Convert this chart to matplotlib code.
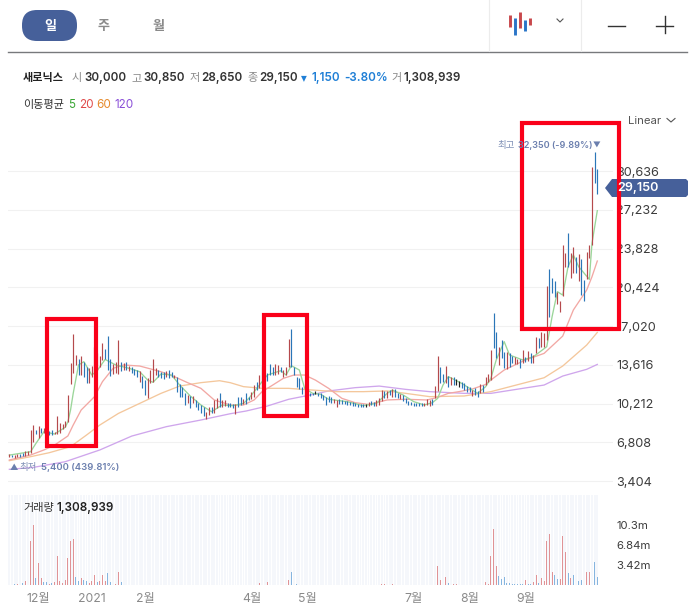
import matplotlib
matplotlib.use("Agg")
import matplotlib.pyplot as plt
from matplotlib.patches import FancyBboxPatch, Polygon, Rectangle

plt.rcParams['font.family'] = ['Inter', 'Noto Sans CJK KR', 'DejaVu Sans']

W, H = 697, 614

highs = [
 5800,5720,5740,5760,5800,5900,6050,6100,7900,8340,
 7900,8280,8050,8050,7840,7840,7900,7750,9130,8490,
 8430,8720,10980,13760,16330,14490,14100,14430,13900,13460,
 13320,13520,15220,14630,14400,15510,14980,16160,14100,13700,
 13900,15800,13840,13760,13840,13550,13400,13230,13170,13110,
 12640,12290,12440,13170,14100,13320,13170,13020,13020,13110,
 13170,13020,12730,12590,11940,11650,11120,10980,10890,10890,
 10540,10300,10100,9950,9510,9950,9950,10540,10680,11120,
 10540,10540,10300,10240,10150,10150,10770,10770,10600,11120,
 10770,11270,11850,12150,12730,13520,12730,12880,13700,13400,
 13700,13610,13460,13170,13400,15890,16770,13400,12590,12440,
 11650,11470,11270,11180,11120,11350,11180,11120,10980,10770,
 10890,10770,10600,10540,10600,10540,10480,10480,10390,10330,
 10240,10190,10190,10150,10150,10390,10480,10390,10540,10740,
 11410,11350,11330,11410,11470,11470,11120,11030,10980,10680,
 10480,10390,10300,10300,10240,10240,10300,10600,10540,10600,
 11760,14400,13400,12820,13520,12640,12580,12580,12350,12200,
 12140,12000,11790,11700,11410,11560,11350,11910,11850,12580,
 12820,14920,18200,16530,15220,15800,14780,14720,14630,14400,
 14340,14100,14100,14920,14340,14860,14630,14490,16040,15950,
 16530,16390,20540,22010,21220,20980,20050,19260,24140,23410,
 25230,23410,23940,23120,23350,22890,21070,23560,24140,30960,
 32350,30850]
lows = [
 5500,5500,5480,5520,5560,5620,5650,5750,5910,6880,
 7550,7170,7670,7610,7370,7430,7490,7550,7550,7670,
 7960,8200,8630,11940,12880,13610,12730,12730,12590,12060,
 12060,12590,12880,13170,13460,14050,14100,13170,12640,12820,
 12880,12820,13110,13170,13170,13110,12940,12730,12590,12150,
 11560,10980,10740,12060,12150,12730,12590,12440,12350,12590,
 12440,12590,12440,11270,10830,10770,10100,10240,9860,10240,
 9950,9660,9370,9130,8840,9220,9370,9420,9800,9950,
 9890,10010,9950,9890,9800,9300,9950,10100,10190,10190,
 10540,10600,10770,11410,11560,11650,12230,12230,12730,12730,
 12730,12820,13020,12590,12730,13460,13400,12730,11710,11470,
 11060,10830,10980,10890,10980,11060,10890,10680,10540,10100,
 10390,10300,10240,9950,10190,10190,10190,10130,10100,10040,
 10010,9950,9950,9950,9890,10010,10100,10010,10010,10100,
 10480,10680,10680,10980,10770,10770,10680,10600,10480,10240,
 10100,10100,10040,10010,10010,10010,10010,10100,10010,10100,
 10680,11300,11990,12140,11990,11700,11850,11850,11850,11700,
 11560,11410,11270,11270,10890,10970,10770,11180,11270,11850,
 12140,12290,15070,14190,13610,14190,13310,13230,13460,13810,
 13700,13700,13310,13810,13900,13990,13750,13750,14630,15070,
 15220,15220,15800,17850,19900,19610,18960,18290,19670,22240,
 22240,21220,21710,21650,20980,19750,19260,21130,23000,24140,
 29560,28650]
moves = ("rbrrbbrrrr" "brbrbbbrrr" "rrrrrrbrbb" "rrrrrrbbbr" "rrbrbrbbbr"
         "bbrrrrbbbr" "bbrbbbbrbr" "bbbbrrbrrb" "rrbbbrbbrb" "brrbrbbbbb"
         "rrbrrrbbbb" "bbbbbfbbbb" "bbrrbbbbbb" "bbbbfrbbrr" "rbrbrbbrbb"
         "bbbbbbrrrb" "rrbbrbrbff" "bbbbrbbrbr" "rrbbrbbrbb" "rrbrbrbrrb"
         "rrrbbbrrrr" "brrbrbbrrr" "bb")
days = list(range(1, len(highs) + 1))

ma5_days = [1,9,11,14,18,22,23,24,25,27,29,32,34,37,41,46,50,53,55,58,62,65,69,73,77,81,85,89,91,95,98,103,105,107,110,112,115,118,121,128,134,139,143,145,149,153,157,160,162,164,166,171,177,180,182,184,187,189,194,198,203,205,207,209,211,213,215,219,220,222]
ma5 = [5700,6000,6730,7750,7550,8140,8630,9660,11120,13610,13900,12730,13110,14100,13610,13320,13020,12290,12090,12820,12730,11850,10890,10100,9510,10100,10040,10240,10680,11850,12730,13110,12730,13550,13170,11560,11120,11040,10600,10390,10040,10240,11120,11410,10980,10390,10100,10300,10680,11850,12590,12000,11120,11700,12440,14050,15660,14490,14050,14340,15220,17850,20050,19750,22240,23270,22240,21130,24290,27160]
ma20_days = [1,9,14,18,23,25,28,33,36,40,44,50,58,63,68,73,78,84,89,93,96,100,104,108,112,116,121,126,131,136,143,150,158,162,166,170,175,180,182,187,195,202,209,213,218,220,222]
ma20 = [5270,5710,6150,6580,7380,8340,9660,10830,12150,13320,13610,13520,13020,12590,12060,11560,10540,10100,10100,10540,11270,11850,12440,12730,12730,12290,11560,10680,10300,10150,10540,10600,10540,10770,11120,11270,11500,11900,12290,13170,14050,14630,16150,18440,20190,21360,22740]
ma60_days = [1,9,16,24,30,35,42,50,58,65,73,80,84,89,96,106,115,124,134,143,150,159,172,182,194,202,209,218,222]
ma60 = [5210,5560,5910,6440,7460,8340,9360,10240,11120,11760,12060,12230,12060,11710,11560,11560,11410,11270,11270,11330,11120,10830,10890,11270,12000,12490,13520,15360,16470]
ma120_days = [1,10,22,35,47,60,73,84,90,98,106,114,121,131,140,150,159,172,182,194,202,209,218,222]
ma120 = [4450,4620,5120,6150,7370,8195,8780,9330,9570,10010,10600,10970,11330,11620,11760,11470,11270,11120,11120,11560,11850,12640,13230,13660]

vol_days = [2,3,4,5,6,7,8,9,10,11,
            12,13,14,15,16,17,18,19,20,21,
            22,23,24,25,26,27,28,29,30,31,
            32,33,34,35,36,37,38,39,41,42,
            43,55,95,98,106,107,108,109,141,142,
            145,161,162,163,164,165,166,168,169,180,
            181,182,183,184,185,186,187,188,189,190,
            191,192,193,194,195,196,197,198,199,200,
            201,202,203,204,205,206,207,208,209,210,
            211,212,213,214,215,216,217,218,219,220,
            221,222]
vol = [.1,.1,.1,.1,.4,.6,.5,7.5,10.3,1.14,
       3.7,1.14,.45,.45,.23,.28,.45,5.0,.6,.28,
       .85,4.6,7.5,7.8,1.3,.6,1.14,.85,.6,.28,
       .6,1.65,.45,.6,1.65,.6,2.0,.45,.23,2.3,
       .45,1.3,.3,.45,.85,2.3,.45,.2,.2,.15,
       .1,1.43,3.25,.85,.2,1.3,.28,.23,.15,.45,
       .2,5.0,9.5,3.25,1.5,.97,1.3,.3,.28,.23,
       .15,.15,.15,.15,.85,.15,.15,.45,1.65,.28,
       1.14,.6,7.5,8.66,2.17,1.65,.97,.97,8.3,5.6,
       2.0,1.14,1.65,.6,.74,.8,.45,2.3,2.17,9.5,
       3.9,1.31]
vol_dirs = ("bbrrbrrrrb" "rrbbrbrrrr" "rrrrbbrbbr" "rrbrrrbbrr" "brrrrbbbrr"
            "rrrrrrbrrr" "rrrrbbbbbb" "bbbbrbbrrb" "rrrrrbbrrr" "brbbbbrrrr" "bb")

price_ticks = [3404,6808,10212,13616,17020,20424,23828,27232,30636]
month_ticks = [12,32,52,92,113,153,174,195]
month_labels = ['12월','2021','2월','4월','5월','7월','8월','9월']
vol_ticks = [3.42,6.84,10.3]
vol_tick_labels = ['3.42m','6.84m','10.3m']

RED, BLUE = '#b5494c', '#2b76b8'
NAVY = '#46609a'
def axes_px(x0, y0, x1, y1):
    return [x0/W, 1-y1/H, (x1-x0)/W, (y1-y0)/H]

fig = plt.figure(figsize=(W/100, H/100), dpi=100, facecolor='white')
xlim = (0.49, 227.9)

ax = fig.add_axes(axes_px(8, 130, 613, 490))
ax.set_xlim(*xlim)
ax.set_ylim(2635, 34243)
for s in ax.spines.values():
    s.set_visible(False)
ax.set_xticks([])
ax.yaxis.tick_right()
ax.set_yticks(price_ticks)
ax.set_yticklabels([f'{p:,}' for p in price_ticks])
ax.tick_params(axis='y', length=0, pad=2.5, labelsize=9.1, labelcolor='#3c3c3c')
ax.grid(axis='y', color='#f1f1f1', lw=0.8)
ax.set_axisbelow(True)

for d, c, name in ((ma120_days, '#cfa6ec', ma120), (ma60_days, '#f4c79c', ma60),
                   (ma20_days, '#f2a8a4', ma20), (ma5_days, '#9bd69a', ma5)):
    ax.plot(d, name, color=c, lw=0.95, zorder=2)
cmap = {'r': RED, 'b': BLUE, 'f': '#222222'}
ax.vlines(days, lows, highs, colors=[cmap[m] for m in moves], lw=0.85, zorder=3)

vx = fig.add_axes(axes_px(8, 495, 613, 585))
vx.set_xlim(*xlim)
vx.set_ylim(0, 15.39)
for s in vx.spines.values():
    s.set_visible(False)
vx.bar(days, [15.39]*len(days), width=0.72, color='#f5f7fb', zorder=1)
vx.bar(vol_days, vol, width=0.36,
       color=['#e09396' if c == 'r' else '#86b5df' for c in vol_dirs], zorder=2)
vx.yaxis.tick_right()
vx.set_yticks(vol_ticks)
vx.set_yticklabels(vol_tick_labels)
vx.tick_params(axis='y', length=0, pad=2.5, labelsize=8.2, labelcolor='#3c3c3c')
vx.set_xticks(month_ticks)
vx.set_xticklabels(month_labels)
vx.tick_params(axis='x', length=0, pad=5.5, labelsize=8.8, labelcolor='#8a8a8a')

ov = fig.add_axes([0, 0, 1, 1], zorder=10)
ov.set_xlim(0, W)
ov.set_ylim(H, 0)
ov.axis('off')
ov.patch.set_alpha(0)

def T(x, y, s, color='#333333', size=8.6, weight='normal', ha='left'):
    ov.text(x, y, s, color=color, fontsize=size, fontweight=weight, ha=ha, va='center')

ov.add_patch(FancyBboxPatch((22, 10), 55, 31, boxstyle='round,pad=0,rounding_size=15',
                            fc=NAVY, ec=NAVY, lw=0))
T(50, 27, '일', 'white', 9.4, 'bold', 'center')
T(104, 27, '주', '#8a8a8a', 9.4, 'bold', 'center')
T(158, 27, '월', '#8a8a8a', 9.4, 'bold', 'center')
ov.plot([8, 687], [51.5, 51.5], color='#77797c', lw=1)
ov.plot([488.5, 488.5], [0, 51], color='#ececec', lw=0.8)
ov.plot([580.5, 580.5], [0, 51], color='#ececec', lw=0.8)
for x, y0, y1, c in ((510, 15, 27, '#c8484c'), (515, 18, 35, '#2b76c8'), (520, 12, 28, '#c8484c'),
                     (525, 20, 31, '#2b76c8'), (530, 18, 25, '#c8484c')):
    ov.plot([x, x], [y0, y1], color=c, lw=2.1, solid_capstyle='butt')
ov.plot([557, 560, 563], [19, 22, 19], color='#555555', lw=0.8)
ov.plot([608, 625], [25.5, 25.5], color='#333333', lw=1)
ov.plot([656, 673], [25.5, 25.5], color='#333333', lw=1)
ov.plot([664.5, 664.5], [16, 33], color='#333333', lw=1)

y = 78.2
T(23, y, '새로닉스', '#222222', 8.0, 'bold')
for x, s in ((72, '시'), (131, '고'), (189, '저'), (247, '종'), (391, '거')):
    T(x, y, s, '#8a8a8a', 8.0)
for x, s in ((84.5, '30,000'), (143, '30,850'), (201, '28,650'), (259.6, '29,150'), (403.5, '1,308,939')):
    T(x, y, s, '#333333', 8.4, 'semibold')
T(300.5, y, '▾', '#1f7fd6', 8.4)
T(311, y, '1,150', '#1f7fd6', 8.4, 'semibold')
T(344.5, y, '-3.80%', '#1f7fd6', 8.4, 'semibold')
y = 105.2
T(23, y, '이동평균', '#333333', 8.0)
for x, s, c in ((68.5, '5', '#3aa635'), (79, '20', '#e04a4a'), (96, '60', '#e58a2c'), (114, '120', '#8a4fd8')):
    T(x, y, s, c, 8.4)
T(628, 120.5, 'Linear', '#555555', 8.2)
ov.plot([667, 671, 675], [118.5, 122, 118.5], color='#555555', lw=0.8)

T(497, 145.5, '최고', '#7f90b6', 6.8)
T(518, 145.5, '32,350 (-9.89%)', '#6b7fae', 6.5, 'semibold')
T(593, 145, '▼', '#6b7fae', 5.5)
T(10, 467.5, '▲', '#6b7fae', 6)
T(19, 467.5, '최저', '#7f90b6', 6.8)
T(41, 467.5, '5,400 (439.81%)', '#6b7fae', 6.8, 'semibold')

ov.add_patch(Polygon([(605, 188), (612, 179), (686, 179), (688, 181), (688, 195), (686, 197), (612, 197)],
                     closed=True, fc=NAVY, ec=NAVY, lw=0))
T(617, 188, '29,150', 'white', 9.1, 'semibold')
T(23, 508, '거래량', '#333333', 8.0)
T(56.5, 508, '1,308,939', '#222222', 8.4, 'semibold')

for x0, y0, x1, y1 in ((47, 319, 96, 446), (264, 315, 307, 416), (522, 123, 619, 329)):
    ov.add_patch(Rectangle((x0, y0), x1-x0, y1-y0, fill=False, ec='#fa0019', lw=3))

fig.savefig('out.png', dpi=100)
